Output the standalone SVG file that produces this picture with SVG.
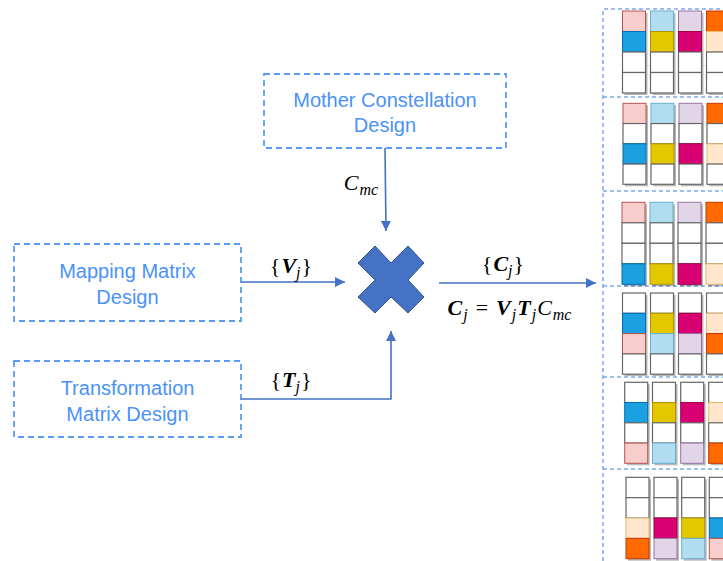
<svg xmlns="http://www.w3.org/2000/svg" width="723" height="561" viewBox="0 0 723 561">
<defs>
<style>
.box{fill:none;stroke:#5B9BF8;stroke-width:1.8;stroke-dasharray:6 4}
.lbl{font-family:"Liberation Sans",Arial,sans-serif;font-size:20px;fill:#4A92FA;text-anchor:middle}
.conn{fill:none;stroke:#4472C4;stroke-width:1.6}
.math{font-family:"Liberation Serif","Times New Roman",serif;font-size:22px;fill:#000;text-anchor:middle}
.bi{font-weight:bold;font-style:italic}
.it{font-style:italic}
.sub{font-size:16px;font-style:italic}
.panel{fill:none;stroke:#7EA6F0;stroke-width:1.5;stroke-dasharray:4 3}
.sh{fill:#000;opacity:.28}
.w{fill:#fff;stroke:#666;stroke-width:1.2}
.pk{fill:#F8CECC;stroke:#B85450;stroke-width:1}
.lb{fill:#B1DDF0;stroke:#6AAFD0;stroke-width:1}
.pu{fill:#E1D5E7;stroke:#9673A6;stroke-width:1}
.or{fill:#FF6A00;stroke:#C73500;stroke-width:1}
.pe{fill:#FFE6CC;stroke:#E8B870;stroke-width:1}
.bl{fill:#1BA1E2;stroke:#006EAF;stroke-width:1}
.ye{fill:#E3C800;stroke:#B09500;stroke-width:1}
.mg{fill:#D80073;stroke:#A50040;stroke-width:1}
</style>
<marker id="ah" markerUnits="userSpaceOnUse" markerWidth="11" markerHeight="11" refX="10" refY="5" orient="auto">
<path d="M0,0 L10,5 L0,10 z" fill="#4472C4"/>
</marker>
</defs>

<g id="mother">
<rect class="box" x="264" y="74" width="242" height="74"/>
<text class="lbl" x="385" y="107">Mother Constellation</text>
<text class="lbl" x="385" y="131.5">Design</text>
</g>
<g id="mapping">
<rect class="box" x="14" y="244" width="227" height="77"/>
<text class="lbl" x="127.5" y="278">Mapping Matrix</text>
<text class="lbl" x="127.5" y="303.5">Design</text>
</g>
<g id="transform">
<rect class="box" x="14" y="361" width="227" height="76"/>
<text class="lbl" x="127.5" y="395">Transformation</text>
<text class="lbl" x="127.5" y="421">Matrix Design</text>
</g>
<g id="multiply">
<polygon points="358,263 375,246 391,263 408,246 424,263 408,280 424,297 408,313 391,297 375,313 358,297 375,280" fill="#4472C4" stroke="#2F528F" stroke-width="1"/>
</g>

<g id="connectors">
<path class="conn" d="M385 148 L386 231" marker-end="url(#ah)"/>
<path class="conn" d="M241 282 H345" marker-end="url(#ah)"/>
<path class="conn" d="M241 399 H391 V331" marker-end="url(#ah)"/>
<path class="conn" d="M439 283 H596" marker-end="url(#ah)"/>
<text class="math" x="291" y="273">{<tspan class="bi" dx="1">V</tspan><tspan class="sub" dy="5">j</tspan><tspan dx="1" dy="-5">}</tspan></text>
<text class="math" x="291" y="387">{<tspan class="bi" dx="1">T</tspan><tspan class="sub" dy="5">j</tspan><tspan dx="1" dy="-5">}</tspan></text>
<text class="math" x="503" y="271">{<tspan class="bi" dx="1">C</tspan><tspan class="sub" dy="5">j</tspan><tspan dx="1" dy="-5">}</tspan></text>
<text class="math" x="361" y="190" font-size="23"><tspan class="it">C</tspan><tspan class="sub" dx="1" dy="5">mc</tspan></text>
<text class="math" x="509.5" y="315" font-size="23"><tspan class="bi">C</tspan><tspan class="sub" dx="1" dy="5">j</tspan><tspan dx="8" dy="-5">=</tspan><tspan class="bi" dx="8">V</tspan><tspan class="sub" dx="1" dy="5">j</tspan><tspan class="bi" dx="1" dy="-5">T</tspan><tspan class="sub" dx="1" dy="5">j</tspan><tspan class="it" dx="1" dy="-5">C</tspan><tspan class="sub" dx="1" dy="5">mc</tspan></text>
</g>

<g id="codebooks">
<path class="panel" d="M603 561 V9 H723 M603 97 H723 M603 191 H723 M603 286 H723 M603 377 H723 M603 469 H723"/>

<g id="cb1">
<rect class="sh" x="624.5" y="13" width="23" height="82"/><rect class="sh" x="652.5" y="13" width="23" height="82"/><rect class="sh" x="680.5" y="13" width="23" height="82"/><rect class="sh" x="708.5" y="13" width="23" height="82"/>
<rect class="pk" x="622.5" y="11" width="23" height="20.5"/><rect class="bl" x="622.5" y="31.5" width="23" height="20.5"/><rect class="w" x="622.5" y="52" width="23" height="20.5"/><rect class="w" x="622.5" y="72.5" width="23" height="20.5"/>
<rect class="lb" x="650.5" y="11" width="23" height="20.5"/><rect class="ye" x="650.5" y="31.5" width="23" height="20.5"/><rect class="w" x="650.5" y="52" width="23" height="20.5"/><rect class="w" x="650.5" y="72.5" width="23" height="20.5"/>
<rect class="pu" x="678.5" y="11" width="23" height="20.5"/><rect class="mg" x="678.5" y="31.5" width="23" height="20.5"/><rect class="w" x="678.5" y="52" width="23" height="20.5"/><rect class="w" x="678.5" y="72.5" width="23" height="20.5"/>
<rect class="or" x="706.5" y="11" width="23" height="20.5"/><rect class="pe" x="706.5" y="31.5" width="23" height="20.5"/><rect class="w" x="706.5" y="52" width="23" height="20.5"/><rect class="w" x="706.5" y="72.5" width="23" height="20.5"/>
</g>

<g id="cb2">
<rect class="sh" x="625" y="105.3" width="23" height="81"/><rect class="sh" x="653" y="105.3" width="23" height="81"/><rect class="sh" x="681" y="105.3" width="23" height="81"/><rect class="sh" x="709" y="105.3" width="23" height="81"/>
<rect class="pk" x="623" y="103.3" width="23" height="20.25"/><rect class="w" x="623" y="123.55" width="23" height="20.25"/><rect class="bl" x="623" y="143.8" width="23" height="20.25"/><rect class="w" x="623" y="164.05" width="23" height="20.25"/>
<rect class="lb" x="651" y="103.3" width="23" height="20.25"/><rect class="w" x="651" y="123.55" width="23" height="20.25"/><rect class="ye" x="651" y="143.8" width="23" height="20.25"/><rect class="w" x="651" y="164.05" width="23" height="20.25"/>
<rect class="pu" x="679" y="103.3" width="23" height="20.25"/><rect class="w" x="679" y="123.55" width="23" height="20.25"/><rect class="mg" x="679" y="143.8" width="23" height="20.25"/><rect class="w" x="679" y="164.05" width="23" height="20.25"/>
<rect class="or" x="707" y="103.3" width="23" height="20.25"/><rect class="w" x="707" y="123.55" width="23" height="20.25"/><rect class="pe" x="707" y="143.8" width="23" height="20.25"/><rect class="w" x="707" y="164.05" width="23" height="20.25"/>
</g>

<g id="cb3">
<rect class="sh" x="624" y="204.3" width="23" height="82"/><rect class="sh" x="652" y="204.3" width="23" height="82"/><rect class="sh" x="680" y="204.3" width="23" height="82"/><rect class="sh" x="708" y="204.3" width="23" height="82"/>
<rect class="pk" x="622" y="202.3" width="23" height="20.5"/><rect class="w" x="622" y="222.8" width="23" height="20.5"/><rect class="w" x="622" y="243.3" width="23" height="20.5"/><rect class="bl" x="622" y="263.8" width="23" height="20.5"/>
<rect class="lb" x="650" y="202.3" width="23" height="20.5"/><rect class="w" x="650" y="222.8" width="23" height="20.5"/><rect class="w" x="650" y="243.3" width="23" height="20.5"/><rect class="ye" x="650" y="263.8" width="23" height="20.5"/>
<rect class="pu" x="678" y="202.3" width="23" height="20.5"/><rect class="w" x="678" y="222.8" width="23" height="20.5"/><rect class="w" x="678" y="243.3" width="23" height="20.5"/><rect class="mg" x="678" y="263.8" width="23" height="20.5"/>
<rect class="or" x="706" y="202.3" width="23" height="20.5"/><rect class="w" x="706" y="222.8" width="23" height="20.5"/><rect class="w" x="706" y="243.3" width="23" height="20.5"/><rect class="pe" x="706" y="263.8" width="23" height="20.5"/>
</g>

<g id="cb4">
<rect class="sh" x="624.5" y="295" width="23" height="81"/><rect class="sh" x="652.5" y="295" width="23" height="81"/><rect class="sh" x="680.5" y="295" width="23" height="81"/><rect class="sh" x="708.5" y="295" width="23" height="81"/>
<rect class="w" x="622.5" y="293" width="23" height="20.3"/><rect class="bl" x="622.5" y="313.3" width="23" height="20.3"/><rect class="pk" x="622.5" y="333.6" width="23" height="20.3"/><rect class="w" x="622.5" y="353.9" width="23" height="20.3"/>
<rect class="w" x="650.5" y="293" width="23" height="20.3"/><rect class="ye" x="650.5" y="313.3" width="23" height="20.3"/><rect class="lb" x="650.5" y="333.6" width="23" height="20.3"/><rect class="w" x="650.5" y="353.9" width="23" height="20.3"/>
<rect class="w" x="678.5" y="293" width="23" height="20.3"/><rect class="mg" x="678.5" y="313.3" width="23" height="20.3"/><rect class="pu" x="678.5" y="333.6" width="23" height="20.3"/><rect class="w" x="678.5" y="353.9" width="23" height="20.3"/>
<rect class="w" x="706.5" y="293" width="23" height="20.3"/><rect class="pe" x="706.5" y="313.3" width="23" height="20.3"/><rect class="or" x="706.5" y="333.6" width="23" height="20.3"/><rect class="w" x="706.5" y="353.9" width="23" height="20.3"/>
</g>

<g id="cb5">
<rect class="sh" x="626.7" y="384.3" width="23" height="81"/><rect class="sh" x="654.5" y="384.3" width="23" height="81"/><rect class="sh" x="682.7" y="384.3" width="23" height="81"/><rect class="sh" x="710.7" y="384.3" width="23" height="81"/>
<rect class="w" x="624.7" y="382.3" width="23" height="20.25"/><rect class="bl" x="624.7" y="402.55" width="23" height="20.25"/><rect class="w" x="624.7" y="422.8" width="23" height="20.25"/><rect class="pk" x="624.7" y="443.05" width="23" height="20.25"/>
<rect class="w" x="652.5" y="382.3" width="23" height="20.25"/><rect class="ye" x="652.5" y="402.55" width="23" height="20.25"/><rect class="w" x="652.5" y="422.8" width="23" height="20.25"/><rect class="lb" x="652.5" y="443.05" width="23" height="20.25"/>
<rect class="w" x="680.7" y="382.3" width="23" height="20.25"/><rect class="mg" x="680.7" y="402.55" width="23" height="20.25"/><rect class="w" x="680.7" y="422.8" width="23" height="20.25"/><rect class="pu" x="680.7" y="443.05" width="23" height="20.25"/>
<rect class="w" x="708.7" y="382.3" width="23" height="20.25"/><rect class="pe" x="708.7" y="402.55" width="23" height="20.25"/><rect class="w" x="708.7" y="422.8" width="23" height="20.25"/><rect class="or" x="708.7" y="443.05" width="23" height="20.25"/>
</g>

<g id="cb6">
<rect class="sh" x="628" y="479.3" width="23" height="81.4"/><rect class="sh" x="656" y="479.3" width="23" height="81.4"/><rect class="sh" x="683.7" y="479.3" width="23" height="81.4"/><rect class="sh" x="711.3" y="479.3" width="23" height="81.4"/>
<rect class="w" x="626" y="477.3" width="23" height="20.35"/><rect class="w" x="626" y="497.65" width="23" height="20.35"/><rect class="pe" x="626" y="518" width="23" height="20.35"/><rect class="or" x="626" y="538.35" width="23" height="20.35"/>
<rect class="w" x="654" y="477.3" width="23" height="20.35"/><rect class="w" x="654" y="497.65" width="23" height="20.35"/><rect class="mg" x="654" y="518" width="23" height="20.35"/><rect class="pu" x="654" y="538.35" width="23" height="20.35"/>
<rect class="w" x="681.7" y="477.3" width="23" height="20.35"/><rect class="w" x="681.7" y="497.65" width="23" height="20.35"/><rect class="ye" x="681.7" y="518" width="23" height="20.35"/><rect class="lb" x="681.7" y="538.35" width="23" height="20.35"/>
<rect class="w" x="709.3" y="477.3" width="23" height="20.35"/><rect class="w" x="709.3" y="497.65" width="23" height="20.35"/><rect class="bl" x="709.3" y="518" width="23" height="20.35"/><rect class="pk" x="709.3" y="538.35" width="23" height="20.35"/>
</g>
</g>
</svg>
